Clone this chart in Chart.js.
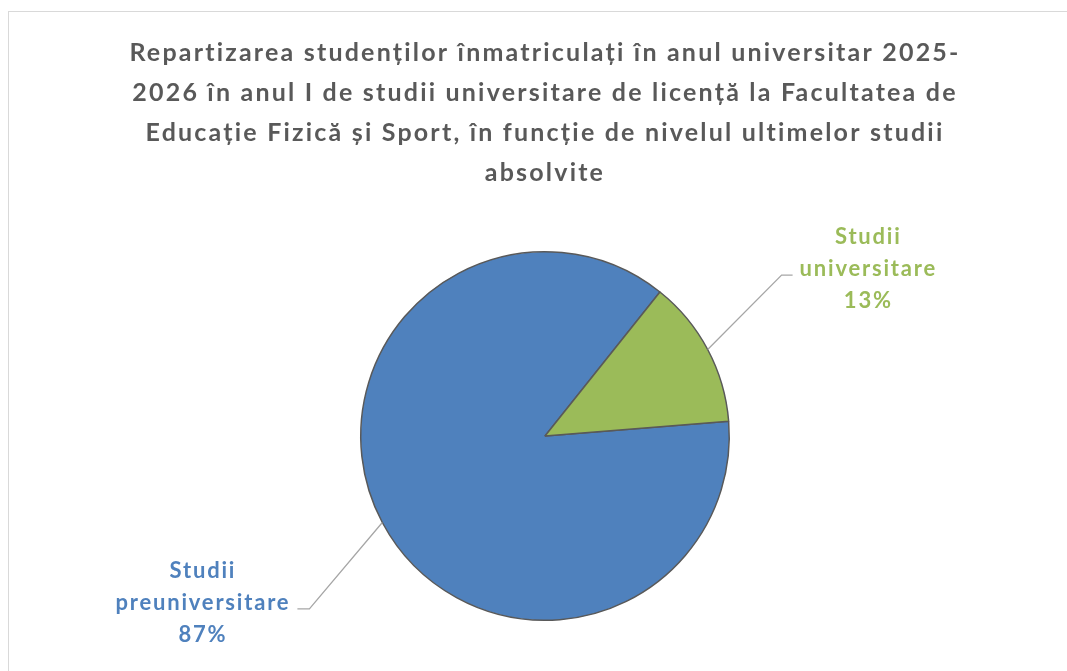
<!DOCTYPE html>
<html>
<head>
<meta charset="utf-8">
<script src="https://cdn.jsdelivr.net/npm/chart.js@4.4.0/dist/chart.umd.min.js"></script>
<style>
  html, body { margin: 0; padding: 0; background: #fff; overflow: hidden; }
  #frame {
    position: absolute; left: 8px; top: 11px;
    width: 1072px; height: 670px;
    border: 1px solid #d9d9d9; box-sizing: border-box;
  }
  #pieChart { display: block; }
</style>
</head>
<body>
<div id="frame">
  <canvas id="pieChart" width="1072" height="660"></canvas>
</div>
<script>
// data
const categories = ['Studii preuniversitare', 'Studii universitare'];
const shares = [87, 13];
const sliceColors = ['#4F81BD', '#9BBB59'];
const titleLines = [
  'Repartizarea studenților înmatriculați în anul universitar 2025-',
  '2026 în anul I de studii universitare de licență la Facultatea de',
  'Educație Fizică și Sport, în funcție de nivelul ultimelor studii',
  'absolvite'
];

const FONT = 'Lato, "Open Sans", sans-serif';

// the original text is wider set than Lato, so space the letters a bit
const spacing = {
  id: 'spacing',
  beforeDraw(chart) {
    chart.ctx.letterSpacing = '2.2px';
  }
};

// outside labels with elbow leader lines, like the office chart
const outsideLabels = {
  id: 'outsideLabels',
  afterDatasetsDraw(chart) {
    const ctx = chart.ctx;
    const meta = chart.getDatasetMeta(0);
    const total = shares.reduce((a, b) => a + b, 0);
    ctx.save();
    ctx.letterSpacing = '1.8px';
    ctx.font = 'bold 22px ' + FONT;
    ctx.textAlign = 'center';
    ctx.textBaseline = 'middle';
    const lineH = 32;

    meta.data.forEach((arc, i) => {
      const mid = (arc.startAngle + arc.endAngle) / 2;
      const r = arc.outerRadius;
      const right = Math.cos(mid) > 0;
      const words = categories[i].split(' ');
      const lines = [words[0], words.slice(1).join(' '), Math.round(shares[i] / total * 100) + '%'];
      const widest = Math.max(...lines.map(t => ctx.measureText(t).width));

      // inner edge of the label block, the text is centred beside it
      const innerX = arc.x + Math.cos(mid) * r * 1.565;
      const ly = arc.y + Math.sin(mid) * r * 1.93;
      const lx = right ? innerX + widest / 2 : innerX - widest / 2;

      // leader line
      const edgeX = right ? innerX - 7 : innerX + 7;
      const elbowX = right ? edgeX - 11 : edgeX + 12;
      ctx.strokeStyle = '#A6A6A6';
      ctx.lineWidth = 1.3;
      ctx.beginPath();
      ctx.moveTo(arc.x + Math.cos(mid) * r, arc.y + Math.sin(mid) * r);
      ctx.lineTo(elbowX, ly + 6);
      ctx.lineTo(edgeX, ly + 6);
      ctx.stroke();

      ctx.fillStyle = sliceColors[i];
      lines.forEach((t, k) => {
        ctx.fillText(t, lx, ly + (k - 1) * lineH);
      });
    });
    ctx.restore();
  }
};

new Chart(document.getElementById('pieChart'), {
  type: 'pie',
  data: {
    labels: categories,
    datasets: [{
      data: shares,
      backgroundColor: sliceColors,
      borderColor: '#595959',
      borderWidth: 1.5
    }]
  },
  options: {
    responsive: false,
    animation: false,
    rotation: 85.4,
    layout: { padding: { top: 0, bottom: 51, left: 0, right: 0 } },
    plugins: {
      legend: { display: false },
      tooltip: { enabled: false },
      title: {
        display: true,
        text: titleLines,
        color: '#595959',
        font: { family: FONT, size: 25, weight: 'bold', lineHeight: 1.6 },
        padding: { top: 21, bottom: 58 }
      }
    }
  },
  plugins: [spacing, outsideLabels]
});
</script>
</body>
</html>
